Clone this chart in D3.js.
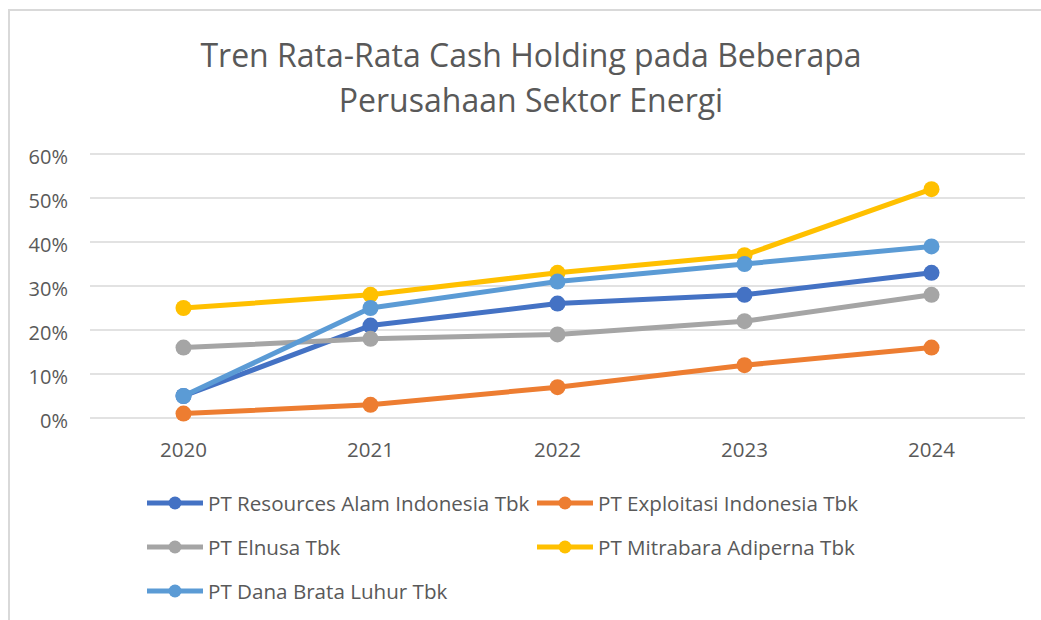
<!DOCTYPE html>
<html>
<head>
<meta charset="utf-8">
<script src="https://cdn.jsdelivr.net/npm/d3@7.9.0/dist/d3.min.js"></script>
<style>
  body { margin: 0; background: #fff; }
  text { font-family: "Open Sans", sans-serif; fill: #595959; }
</style>
</head>
<body>
<svg id="chart" width="1041" height="620"></svg>
<script>
const years = ["2020", "2021", "2022", "2023", "2024"];
const seriesNames = [
  "PT Resources Alam Indonesia Tbk",
  "PT Exploitasi Indonesia Tbk",
  "PT Elnusa Tbk",
  "PT Mitrabara Adiperna Tbk",
  "PT Dana Brata Luhur Tbk"
];
const resources = [0.05, 0.21, 0.26, 0.28, 0.33];
const exploitasi = [0.01, 0.03, 0.07, 0.12, 0.16];
const elnusa = [0.16, 0.18, 0.19, 0.22, 0.28];
const mitrabara = [0.25, 0.28, 0.33, 0.37, 0.52];
const danaBrata = [0.05, 0.25, 0.31, 0.35, 0.39];
const yTicks = [0, 0.1, 0.2, 0.3, 0.4, 0.5, 0.6];
const colors = ["#4472C4", "#ED7D31", "#A5A5A5", "#FFC000", "#5B9BD5"];
const titleLines = ["Tren Rata-Rata Cash Holding pada Beberapa", "Perusahaan Sektor Energi"];

const allSeries = [resources, exploitasi, elnusa, mitrabara, danaBrata];

const svg = d3.select("#chart");
const margin = { top: 154, right: 16, bottom: 202, left: 90 };
const width = 1041 - margin.left - margin.right;
const height = 620 - margin.top - margin.bottom;

// chart border
svg.append("rect")
  .attr("x", 9).attr("y", 10)
  .attr("width", 1100).attr("height", 700)
  .attr("fill", "none")
  .attr("stroke", "#d9d9d9")
  .attr("stroke-width", 2);

// Title
svg.append("text")
  .attr("text-anchor", "middle")
  .attr("x", 531)
  .attr("y", 67)
  .style("font-size", "32px")
  .text(titleLines[0]);
svg.append("text")
  .attr("text-anchor", "middle")
  .attr("x", 531)
  .attr("y", 112)
  .style("font-size", "32px")
  .text(titleLines[1]);

const g = svg.append("g").attr("transform", `translate(${margin.left},${margin.top})`);

const x = d3.scaleBand().domain(years).range([0, width]);
const y = d3.scaleLinear().domain([0, 0.6]).range([height, 0]);

// gridlines
g.append("g")
  .selectAll("line")
  .data(yTicks)
  .join("line")
  .attr("x1", 0).attr("x2", width)
  .attr("y1", d => y(d)).attr("y2", d => y(d))
  .attr("stroke", "#d9d9d9")
  .attr("stroke-width", 1.5);

// Axes
const yAxis = g.append("g")
  .call(d3.axisLeft(y).tickValues(yTicks).tickFormat(d3.format(".0%")).tickSize(0).tickPadding(22));
yAxis.select(".domain").remove();
yAxis.selectAll("text").style("font-size", "20px").attr("fill", "#595959").attr("dy", "0.45em");

const xAxis = g.append("g")
  .attr("transform", `translate(0,${height})`)
  .call(d3.axisBottom(x).tickSize(0).tickPadding(24));
xAxis.select(".domain").remove();
xAxis.selectAll("text").style("font-size", "20.5px").attr("fill", "#595959");

// Line generator
const line = d3.line()
  .x((d, i) => x(years[i]) + x.bandwidth() / 2)
  .y(d => y(d));

allSeries.forEach((vals, index) => {
  g.append("path")
    .datum(vals)
    .attr("fill", "none")
    .attr("stroke", colors[index])
    .attr("stroke-width", 5)
    .attr("stroke-linejoin", "round")
    .attr("d", line);
  g.append("g")
    .selectAll("circle")
    .data(vals)
    .join("circle")
    .attr("cx", (d, i) => x(years[i]) + x.bandwidth() / 2)
    .attr("cy", d => y(d))
    .attr("r", 8)
    .attr("fill", colors[index]);
});

// Legend
const legendPos = [[147, 503], [537, 503], [147, 547], [537, 547], [147, 591]];
seriesNames.forEach((name, i) => {
  const lg = svg.append("g").attr("transform", `translate(${legendPos[i][0]},${legendPos[i][1]})`);
  lg.append("line").attr("x1", 0).attr("x2", 56).attr("y1", 0).attr("y2", 0)
    .attr("stroke", colors[i]).attr("stroke-width", 5);
  lg.append("circle").attr("cx", 28).attr("cy", 0).attr("r", 6.5).attr("fill", colors[i]);
  lg.append("text").attr("x", 61).attr("y", 7.5).style("font-size", "20.6px").text(name);
});
</script>
</body>
</html>
